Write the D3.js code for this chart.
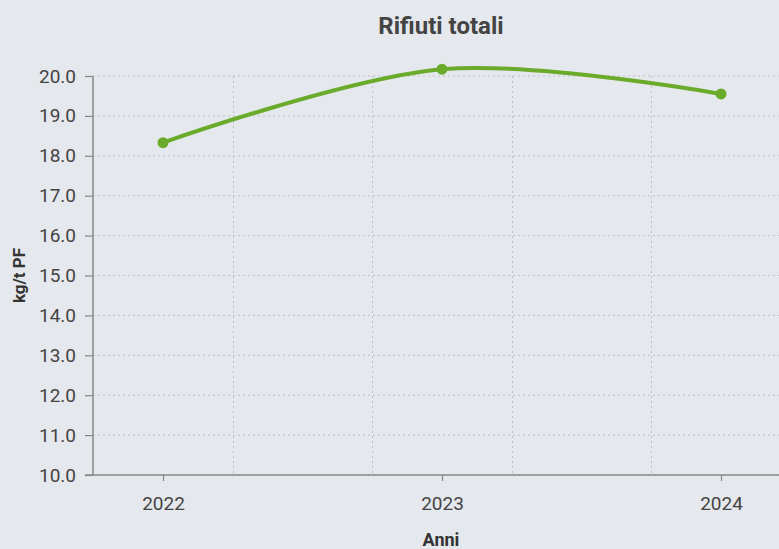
<!DOCTYPE html>
<html><head><meta charset="utf-8">
<script src="https://cdn.jsdelivr.net/npm/d3@7"></script>
<style>
html,body{margin:0;padding:0;background:#e5e8ec;}
svg{display:block;font-family:Roboto,"Noto Sans",sans-serif;}
</style></head>
<body>
<svg id="c" width="779" height="549"></svg>
<script>
const years = [2022, 2023, 2024];
const values = [18.33, 20.17, 19.55];
const yTicks = [10,11,12,13,14,15,16,17,18,19,20];
const xGrid = [2022.25, 2022.75, 2023.25, 2023.75];
const title = "Rifiuti totali";
const xLabel = "Anni";
const yLabel = "kg/t PF";

const W = 779, H = 549;
const m = {left: 93, right: 0, top: 76, bottom: 74};
const svg = d3.select("#c");
svg.append("rect").attr("width", W).attr("height", H).attr("fill", "#e5e8ec");

const x = d3.scaleLinear().domain([2022, 2024]).range([163, 721]);
const y = d3.scaleLinear().domain([10, 20]).range([H - m.bottom, m.top]);
const x0 = m.left, x1 = W - m.right;

// grid
const g = svg.append("g");
g.selectAll(".hg").data(yTicks).join("line")
  .attr("x1", x0).attr("x2", x1)
  .attr("y1", d => y(d)).attr("y2", d => y(d))
  .attr("stroke", "#bdbfc3").attr("stroke-width", 1).attr("stroke-dasharray", "2,3");
g.selectAll(".vg").data(xGrid).join("line")
  .attr("x1", d => Math.round(x(d)) + 0.5).attr("x2", d => Math.round(x(d)) + 0.5)
  .attr("y1", y(20)).attr("y2", y(10))
  .attr("stroke", "#bdbfc3").attr("stroke-width", 1).attr("stroke-dasharray", "2,3");

// y axis
const yAxis = d3.axisLeft(y).tickValues(yTicks).tickFormat(d3.format(".1f")).tickSize(8).tickPadding(9);
const ya = svg.append("g").attr("transform", `translate(${x0},0)`).call(yAxis);
ya.select(".domain").attr("stroke", "#888").attr("stroke-width", 1.5).attr("d", `M0,${y(20)}V${y(10)}`);
ya.selectAll(".tick line").attr("stroke", "#888").attr("stroke-width", 1.2);
ya.selectAll(".tick text").attr("fill", "#444").attr("font-size", 19).attr("font-family", "Roboto");

// x axis
const xAxis = d3.axisBottom(x).tickValues(years).tickFormat(d3.format("d")).tickSize(6).tickPadding(16);
const xa = svg.append("g").attr("transform", `translate(0,${y(10)})`).call(xAxis);
xa.select(".domain").attr("stroke", "#888").attr("stroke-width", 1.5).attr("d", `M${x0 - 8},0H${x1}`);
xa.selectAll(".tick line").attr("stroke", "#888").attr("stroke-width", 1.2);
xa.selectAll(".tick text").attr("fill", "#444").attr("font-size", 19).attr("font-family", "Roboto");

// line
const data = years.map((d, i) => ({x: d, v: values[i]}));
const line = d3.line().x(d => x(d.x)).y(d => y(d.v)).curve(d3.curveCardinal.tension(0));
svg.append("path").datum(data).attr("d", line)
  .attr("fill", "none").attr("stroke", "#6aab2b").attr("stroke-width", 4);
svg.selectAll(".pt").data(data).join("circle")
  .attr("cx", d => x(d.x)).attr("cy", d => y(d.v)).attr("r", 5.5)
  .attr("fill", "#6aab2b");

// texts
svg.append("text").attr("x", 441).attr("y", 34).attr("text-anchor", "middle")
  .attr("font-size", 24).attr("font-weight", "bold").attr("fill", "#444").text(title);
svg.append("text").attr("x", 441).attr("y", 546).attr("text-anchor", "middle")
  .attr("font-size", 18).attr("font-weight", "bold").attr("fill", "#333").text(xLabel);
svg.append("text").attr("transform", `translate(25,${(y(10)+y(20))/2}) rotate(-90)`).attr("text-anchor", "middle")
  .attr("font-size", 17).attr("font-weight", "bold").attr("fill", "#333").text(yLabel);
</script>
</body></html>
